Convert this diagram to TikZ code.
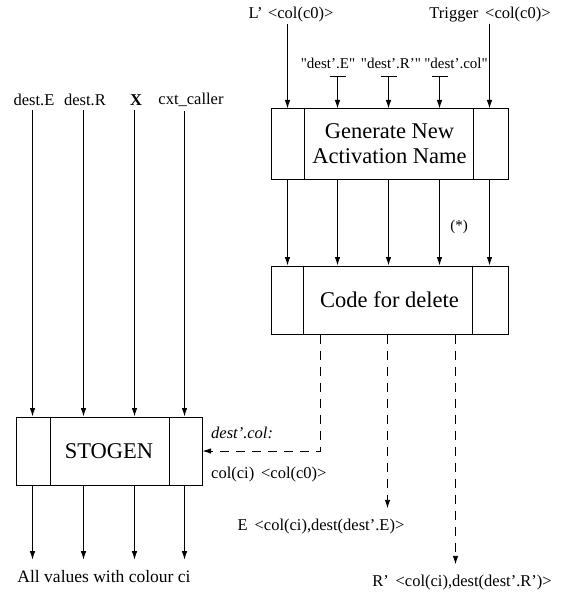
\documentclass[tikz,border=0pt]{standalone}
\usepackage{fontspec}
\setmainfont{Liberation Serif}
\newfontfamily\qfont[Ligatures=TeXOff]{Liberation Serif}
\usetikzlibrary{arrows.meta,calc}
\newcommand{\qq}{{\qfont"}}
\begin{document}
\begin{tikzpicture}[x=1pt,y=-1pt,
  arr/.style={line width=0.9pt,-{Latex[length=8.5pt,width=5.5pt]}},
  darr/.style={arr,dash pattern=on 9pt off 7pt},
  blk/.style={draw,line width=1pt,inner sep=0pt,font=\fontsize{22.5}{27}\selectfont,align=center},
  divider/.style={line width=1pt},
  lbl/.style={font=\fontsize{16.5}{19}\selectfont,inner sep=1pt},
  qlbl/.style={font=\fontsize{15}{17}\selectfont,inner sep=1pt},
  tbar/.style={line width=0.9pt},
]
\useasboundingbox (0,0) rectangle (585,599);

% blocks
\node[blk,minimum width=237pt,minimum height=70pt] (gen) at (389.5,144) {Generate New\\[-2pt]Activation Name};
\node[blk,minimum width=237pt,minimum height=68pt] (del) at (389.5,300) {Code for delete};
\node[blk,minimum width=186pt,minimum height=68pt] (sto) at (109,451) {STOGEN};

\draw[divider] ($(gen.north west)+(34,0)$) -- ($(gen.south west)+(34,0)$);
\draw[divider] ($(gen.north east)+(-35,0)$) -- ($(gen.south east)+(-35,0)$);
\draw[divider] ($(del.north west)+(33,0)$) -- ($(del.south west)+(33,0)$);
\draw[divider] ($(del.north east)+(-36,0)$) -- ($(del.south east)+(-36,0)$);
\draw[divider] ($(sto.north west)+(35,0)$) -- ($(sto.south west)+(35,0)$);
\draw[divider] ($(sto.north east)+(-33,0)$) -- ($(sto.south east)+(-33,0)$);

% port coordinates
\coordinate (g1) at ($(gen.north west)+(17,0)$);
\coordinate (g2) at ($(gen.north west)+(67,0)$);
\coordinate (g3) at ($(gen.north west)+(118,0)$);
\coordinate (g4) at ($(gen.north west)+(169,0)$);
\coordinate (g5) at ($(gen.north west)+(219,0)$);

\coordinate (s1) at ($(sto.north west)+(17,0)$);
\coordinate (s2) at ($(sto.north west)+(68,0)$);
\coordinate (s3) at ($(sto.north west)+(119,0)$);
\coordinate (s4) at ($(sto.north west)+(169,0)$);

\coordinate (d1) at ($(del.south west)+(50,0)$);
\coordinate (d2) at ($(del.south west)+(117,0)$);
\coordinate (d3) at ($(del.south west)+(185,0)$);

% top labels
\node[lbl] (L) at (291,15) {L'\,\,<col(c0)>};
\node[lbl] (T) at (490,15) {Trigger \,<col(c0)>};
\node[qlbl] (qE) at (328,63) {\qq dest'.E\qq};
\node[qlbl] (qR) at (391,63) {\qq dest'.R'\qq};
\node[qlbl] (qC) at (456,63) {\qq dest'.col\qq};

\draw[arr] (L.south -| g1) -- (g1);
\draw[arr] (T.south -| g5) -- (g5);

\coordinate (b2) at ($(g2)+(0,-32)$);
\coordinate (b3) at ($(g3)+(0,-32)$);
\coordinate (b4) at ($(g4)+(0,-32)$);
\foreach \b/\g in {b2/g2,b3/g3,b4/g4}{
  \draw[tbar] ($(\b)+(-8,0)$) -- ($(\b)+(8,0)$);
  \draw[arr] (\b) -- (\g);
}

% gen -> del
\foreach \g in {g1,g2,g3,g4,g5}{
  \draw[arr] (gen.south -| \g) -- (del.north -| \g);
}
\node[qlbl] (star) at (459,227) {(*)};

% left inputs
\node[lbl] (lE) at (34,100) {dest.E};
\node[lbl] (lR) at (85,100) {dest.R};
\node[lbl] (lX) at (136,100) {\textbf{X}};
\node[lbl] (lC) at (191,100) {cxt\_caller};
\foreach \n/\s in {lE/s1,lR/s2,lX/s3,lC/s4}{
  \draw[arr] ($(\n.south -| \s)+(0,3)$) -- (\s);
}

% outputs of STOGEN
\node[lbl,font=\fontsize{17.5}{20}\selectfont] (AV) at (104,577) {All values with colour ci};
\foreach \s in {s1,s2,s3,s4}{
  \draw[arr] (sto.south -| \s) -- ($(AV.north -| \s)+(0,-10)$);
}

% dashed outputs of delete
\node[lbl,anchor=west,font=\fontsize{16.5}{19}\selectfont\itshape] (dc) at (210,433) {dest'.col:};
\node[lbl,anchor=west] (cc) at (210,475) {col(ci) \,<col(c0)>};
\draw[darr] (d1) |- (sto.east);

\node[lbl] (El) at (321,527) {E \,<col(ci),dest(dest'.E)>};
\draw[darr] (d2) -- ($(El.north -| d2)+(0,-10)$);

\node[lbl] (Rl) at (462,583) {R' \,<col(ci),dest(dest'.R')>};
\draw[darr] (d3) -- ($(Rl.north -| d3)+(0,-10)$);
\end{tikzpicture}
\end{document}
